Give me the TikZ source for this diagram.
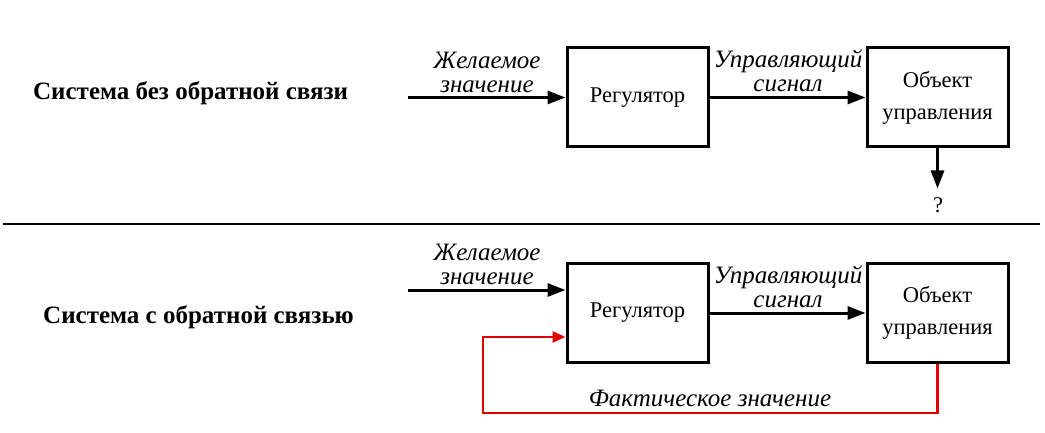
\documentclass[tikz,border=0pt]{standalone}
\usepackage{fontspec}
\setmainfont{Liberation Serif}
\usetikzlibrary{arrows.meta,calc}
\begin{document}
\begin{tikzpicture}[x=1pt,y=-1pt,
  block/.style={draw,line width=3pt,minimum width=141pt,minimum height=99pt,inner sep=0pt,align=center,font=\fontsize{22.5}{32}\selectfont},
  sig/.style={line width=3pt,-{Triangle[length=18pt,width=13pt]}},
  fb/.style={line width=2.5pt,red!90!black,-{Triangle[length=13pt,width=11pt]}},
  lbl/.style={align=center,inner sep=0pt,font=\fontsize{25}{24}\selectfont\itshape},
  title/.style={anchor=west,inner sep=0pt,font=\fontsize{25}{28}\selectfont\bfseries}]
\useasboundingbox (0,0) rectangle (1045,433);

% open loop
\node[title] (t1) at (33,93) {Система без обратной связи};
\node[block] (reg1) at (637.5,97.5) {Регулятор};
\node[block] (obj1) at (937.5,97.5) {Объект\\управления};
\coordinate (in1) at (408,97.5);
\draw[sig] (in1) -- (reg1.west);
\draw[sig] (reg1.east) -- (obj1.west);
\node[lbl] (d1) at (487,72) {Желаемое\\значение};
\node[lbl] (u1) at (788,71) {Управляющий\\сигнал};
\node[inner sep=0pt,font=\fontsize{22.5}{24}\selectfont] (q) at (938,205) {?};
\draw[sig] (obj1.south) -- ++(0,40) coordinate (qa);

% separator
\coordinate (s1) at (3,224);
\coordinate (s2) at (1040,224);
\draw[line width=1.5pt] (s1) -- (s2);

% closed loop
\node[title] (t2) at (43,317) {Система с обратной связью};
\node[block] (reg2) at (637.5,313) {Регулятор};
\node[block] (obj2) at (937.5,313) {Объект\\управления};
\coordinate (in2) at (408,290);
\draw[sig] (in2) -- (in2 -| reg2.west);
\draw[sig] (reg2.east) -- (obj2.west);
\node[lbl] (d2) at (487,264) {Желаемое\\значение};
\node[lbl] (u2) at (788,287) {Управляющий\\сигнал};
\coordinate (fbin) at ($(reg2.west)+(0,24)$);
\draw[fb] (obj2.south) -- ++(0,49) -| (483,337) -- (fbin);
\node[lbl] (f) at (710,398) {Фактическое значение};
\end{tikzpicture}
\end{document}
